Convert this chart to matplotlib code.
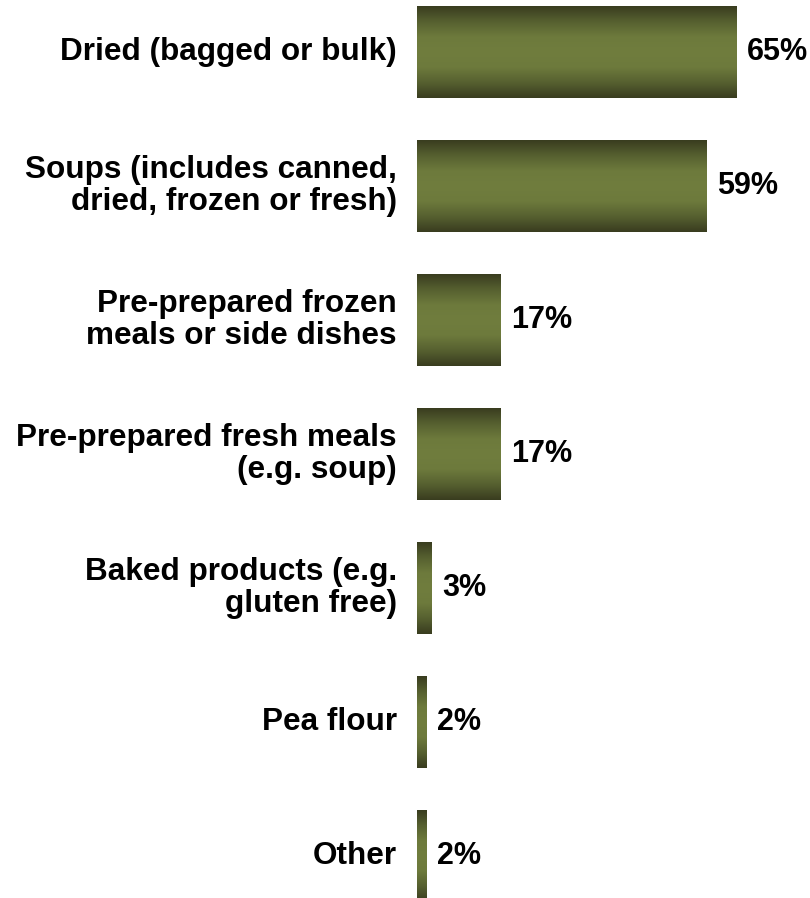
import matplotlib.pyplot as plt
import numpy as np
from matplotlib.colors import LinearSegmentedColormap

categories = [
    "Dried (bagged or bulk)",
    "Soups (includes canned,\ndried, frozen or fresh)",
    "Pre-prepared frozen\nmeals or side dishes",
    "Pre-prepared fresh meals\n(e.g. soup)",
    "Baked products (e.g.\ngluten free)",
    "Pea flour",
    "Other",
]
values = [65, 59, 17, 17, 3, 2, 2]

plt.rcParams['font.family'] = ['Liberation Sans', 'DejaVu Sans']
plt.rcParams['font.weight'] = 'bold'

fig = plt.figure(figsize=(8.1, 8.98), dpi=100)
ax = fig.add_axes([0.5148, 0.0, 0.4852, 1.0])

# olive shading, dark at the top and bottom edges of each bar
olive = LinearSegmentedColormap.from_list(
    "olive", ["#393c1f", "#566030", "#6d7a3c", "#707d3e", "#6d7a3c", "#566030", "#393c1f"])
grad = np.linspace(0, 1, 256).reshape(-1, 1)

ypos = np.arange(len(values))
height = 0.68
bars = ax.barh(ypos, values, height=height, color="none")
for rect in bars:
    x0, y0 = rect.get_x(), rect.get_y()
    w, h = rect.get_width(), rect.get_height()
    ax.imshow(grad, cmap=olive, aspect="auto", interpolation="bicubic",
              extent=(x0, x0 + w, y0 + h, y0), zorder=2)

for y, v in zip(ypos, values):
    ax.annotate(f"{v}%", (v, y), xytext=(7.5, 0), textcoords="offset points",
                va="center", ha="left", fontsize=22, fontweight="bold")

for y, c in zip(ypos, categories):
    ax.annotate(c, (0, y), xytext=(-14.5, 0), textcoords="offset points",
                va="center", ha="right", fontsize=22.7, fontweight="bold",
                multialignment="right", linespacing=1.12)

ax.set_xlim(0, 80)
ax.set_ylim(6.313, -0.388)
ax.axis("off")

fig.savefig("out.png", dpi=100)
